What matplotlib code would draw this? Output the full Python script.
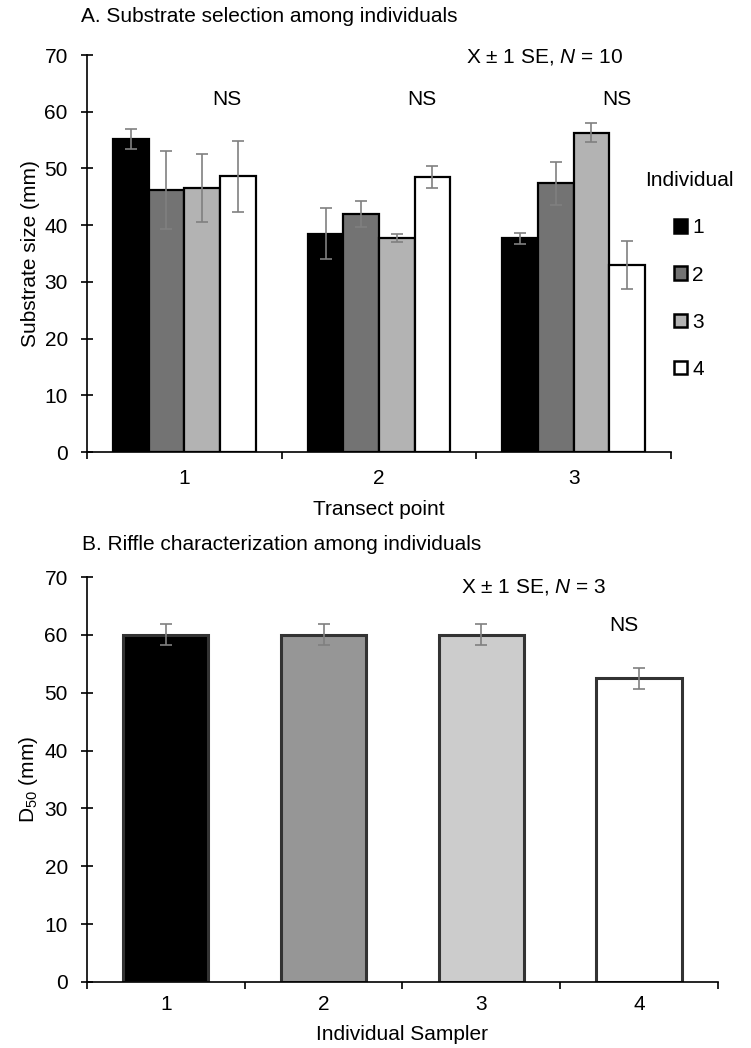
import matplotlib
matplotlib.use("Agg")
import matplotlib.pyplot as plt
import numpy as np
from matplotlib.patches import Patch

plt.rcParams['font.family'] = ['Liberation Sans', 'DejaVu Sans']
plt.rcParams['mathtext.fontset'] = 'custom'
plt.rcParams['mathtext.rm'] = 'Liberation Sans'
plt.rcParams['mathtext.it'] = 'Liberation Sans:italic'

# Panel A data
transects = ['1', '2', '3']
individuals = ['1', '2', '3', '4']
a_means = [
    [55.2, 46.2, 46.5, 48.6],   # transect 1
    [38.5, 41.9, 37.7, 48.5],   # transect 2
    [37.7, 47.4, 56.3, 33.0],   # transect 3
]
a_se = [
    [1.8, 6.8, 6.0, 6.2],
    [4.5, 2.3, 0.7, 1.9],
    [1.0, 3.8, 1.7, 4.2],
]
a_colors = ['#000000', '#737373', '#b3b3b3', '#ffffff']

# Panel B data
samplers = ['1', '2', '3', '4']
b_means = [60.0, 60.0, 60.0, 52.5]
b_se = [1.8, 1.8, 1.8, 1.8]
b_colors = ['#000000', '#969696', '#cccccc', '#ffffff']

fig = plt.figure(figsize=(7.51, 10.48), dpi=100)
FS = 15


def style_axis(ax, xpad):
    ax.tick_params(axis='x', which='major', length=0, labelsize=FS, pad=xpad)
    ax.tick_params(axis='x', which='minor', length=5, width=1.2, direction='out')
    ax.tick_params(axis='y', direction='inout', length=8.6, width=1.2, labelsize=FS, pad=9.5)
    for s in ['top', 'right']:
        ax.spines[s].set_visible(False)
    for s in ['left', 'bottom']:
        ax.spines[s].set_linewidth(1.2)


# ---------- Panel A ----------
axA = fig.add_axes([0.1158, 0.5687, 0.7776, 0.3788])
nT = len(transects)
bw = 0.183
x = np.arange(nT)
am = np.array(a_means)
ase = np.array(a_se)
for j in range(len(individuals)):
    xs = x + (j - 1.5) * bw
    axA.bar(xs, am[:, j], width=bw, color=a_colors[j], edgecolor='black',
            linewidth=1.6, zorder=2)
    axA.errorbar(xs, am[:, j], yerr=ase[:, j], fmt='none', ecolor='#808080',
                 elinewidth=1.2, capsize=4, capthick=1.2, zorder=3)
axA.set_xlim(-0.5, nT - 0.5)
axA.set_ylim(0, 70)
axA.set_yticks(np.arange(0, 71, 10))
axA.set_xticks(x)
axA.set_xticklabels(transects)
axA.set_xticks(np.arange(-0.5, nT, 1.0), minor=True)
style_axis(axA, 12)
axA.set_xlabel('Transect point', fontsize=FS, labelpad=9)
axA.set_ylabel('Substrate size (mm)', fontsize=FS, labelpad=3)
for i in range(nT):
    axA.text(i + 0.22, 62.1, 'NS', fontsize=FS, ha='center', va='center')
axA.text(1.85, 69.7, r'X ± 1 SE, $\mathit{N}$ = 10', fontsize=FS, ha='center', va='center')
fig.text(0.108, 0.9838, 'A. Substrate selection among individuals', fontsize=FS,
         ha='left', va='center')

handles = [Patch(facecolor=c, edgecolor='black', linewidth=1.8) for c in a_colors]
leg = axA.legend(handles, individuals, title='Individual', frameon=False,
                 loc='upper center', bbox_to_anchor=(689 / 751, 0.8465),
                 bbox_transform=fig.transFigure,
                 fontsize=FS, title_fontsize=FS, handlelength=0.62, handleheight=0.62,
                 handletextpad=0.25, labelspacing=1.35, borderpad=0)

# ---------- Panel B ----------
axB = fig.add_axes([0.1158, 0.0630, 0.840, 0.3864])
xb = np.arange(len(samplers))
axB.bar(xb, b_means, width=0.54, color=b_colors, edgecolor='#333333', linewidth=2.2, zorder=2)
axB.errorbar(xb, b_means, yerr=b_se, fmt='none', ecolor='#808080',
             elinewidth=1.2, capsize=4, capthick=1.2, zorder=3)
axB.set_xlim(-0.5, len(samplers) - 0.5)
axB.set_ylim(0, 70)
axB.set_yticks(np.arange(0, 71, 10))
axB.set_xticks(xb)
axB.set_xticklabels(samplers)
axB.set_xticks(np.arange(-0.5, len(samplers), 1.0), minor=True)
style_axis(axB, 9.5)
axB.set_xlabel('Individual Sampler', fontsize=FS, labelpad=8)
axB.set_ylabel(r'D$_{50}$ (mm)', fontsize=FS, labelpad=3)
axB.text(2.905, 61.7, 'NS', fontsize=FS, ha='center', va='center')
axB.text(2.33, 68.2, r'X ± 1 SE, $\mathit{N}$ = 3', fontsize=FS, ha='center', va='center')
fig.text(0.109, 0.480, 'B. Riffle characterization among individuals', fontsize=FS,
         ha='left', va='center')

fig.savefig('out.png', dpi=100)
